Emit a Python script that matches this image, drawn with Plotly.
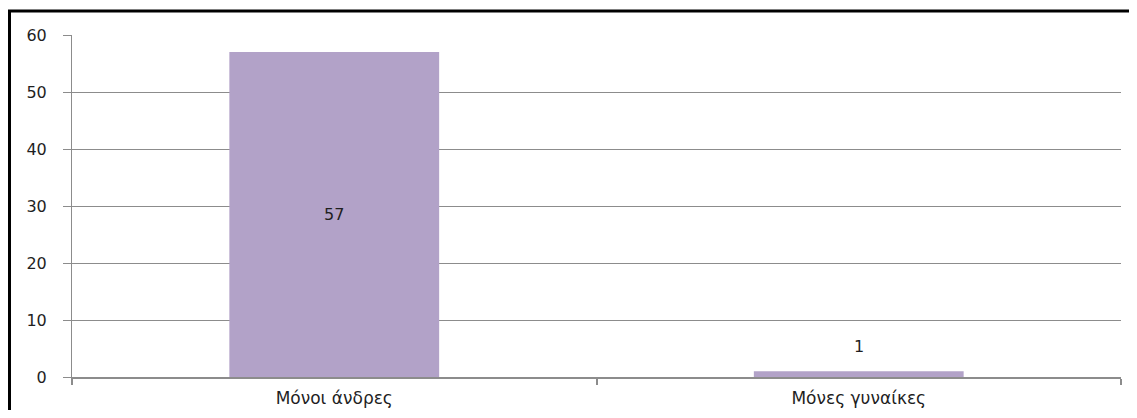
import plotly.graph_objects as go

categories = ["Μόνοι άνδρες", "Μόνες γυναίκες"]
values = [57, 1]
y_ticks = [0, 10, 20, 30, 40, 50, 60]

font_family = "DejaVu Sans"
text_color = "#1f1f1f"
bar_color = "#B2A2C8"
grid_color = "#8C8C8C"

fig = go.Figure()
fig.add_trace(go.Bar(
    x=categories,
    y=values,
    marker=dict(color=bar_color, line=dict(width=0)),
    text=[str(values[0]), ""],
    textposition=["inside", "none"],
    insidetextanchor="middle",
    textfont=dict(family=font_family, size=16, color=text_color),
    hoverinfo="skip",
))

fig.add_annotation(
    x=categories[1], y=values[1], xref="x", yref="y",
    text=str(values[1]), showarrow=False, yshift=25,
    font=dict(family=font_family, size=16, color=text_color),
)

# page has an 8px body margin; figure sized to fit the 1137x418 window
OFF = 8
W, H = 1121, 402
l, r, t, b = 64, 8, 27, 33
pw = W - l - r
ph = H - t - b

def px_x(px):
    return (px - OFF - l) / pw

def px_y(py):
    return (H - b - (py - OFF)) / ph

# outer frame (top and left edges)
fig.add_shape(type="line", xref="paper", yref="paper",
              x0=px_x(8), x1=px_x(1145), y0=px_y(11), y1=px_y(11),
              line=dict(color="black", width=3))
fig.add_shape(type="line", xref="paper", yref="paper",
              x0=px_x(9.5), x1=px_x(9.5), y0=px_y(10), y1=px_y(430),
              line=dict(color="black", width=3))

fig.update_layout(
    width=W, height=H,
    margin=dict(l=l, r=r, t=t, b=b, autoexpand=False),
    paper_bgcolor="white",
    plot_bgcolor="white",
    showlegend=False,
    bargap=0.6,
    font=dict(family=font_family, size=16, color=text_color),
)
fig.update_xaxes(
    automargin=False,
    showline=True, linecolor=grid_color, linewidth=1.5,
    ticks="outside", tickson="boundaries", ticklen=6, tickcolor=grid_color,
    tickwidth=1.5, ticklabelstandoff=5,
    showgrid=False,
    tickfont=dict(family=font_family, size=17, color=text_color),
)
fig.update_yaxes(
    automargin=False,
    range=[0, 60], tickvals=y_ticks,
    showline=True, linecolor=grid_color, linewidth=1,
    ticks="outside", ticklen=8, tickcolor=grid_color,
    ticklabelstandoff=13,
    showgrid=True, gridcolor=grid_color, gridwidth=1,
    zeroline=False,
    tickfont=dict(family=font_family, size=16, color=text_color),
)

fig.write_html("out.html")
